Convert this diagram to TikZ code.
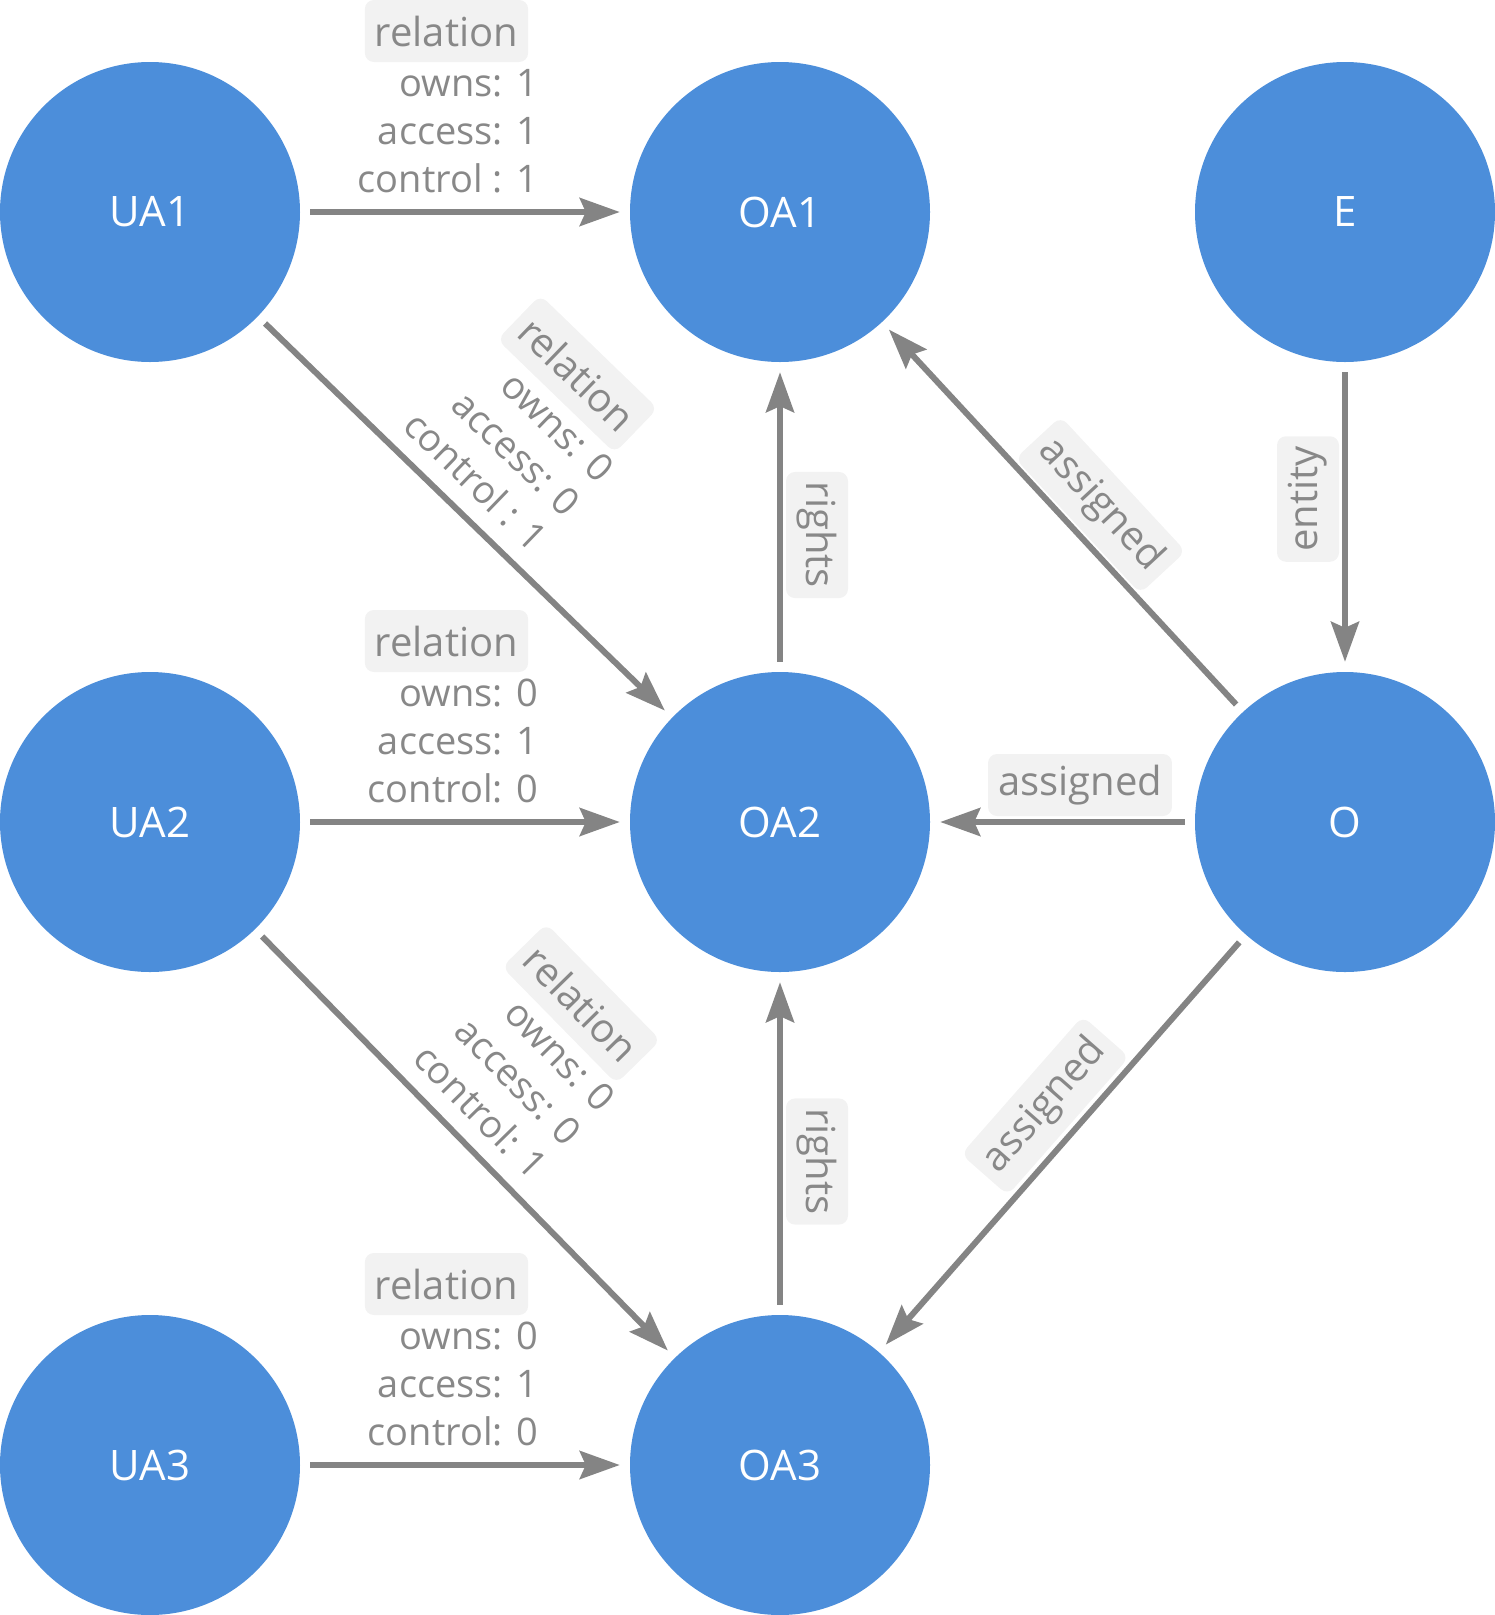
\documentclass[tikz,border=0pt]{standalone}
\usepackage{fontspec}
\setmainfont{Open Sans}
\usepackage{tikz}
\usetikzlibrary{calc}
\usetikzlibrary{arrows.meta}

\definecolor{nodeblue}{RGB}{76,142,218}
\definecolor{edgegray}{RGB}{132,132,132}
\definecolor{labelgray}{RGB}{136,136,136}
\definecolor{tagfill}{RGB}{242,242,242}

\begin{document}
\begin{tikzpicture}[x=1pt, y=1pt,
  vertex/.style={circle, fill=nodeblue, minimum size=300pt, inner sep=0pt,
    text=white, font=\fontsize{42}{50}\selectfont},
  link/.style={draw=edgegray, line width=6pt,
    -{Stealth[length=40pt, width=28pt, inset=6pt]},
    shorten <=10pt, shorten >=10pt},
  tag/.style={fill=tagfill, rounded corners=9pt, text=labelgray,
    minimum height=62pt, inner xsep=10pt, inner ysep=0pt,
    font=\fontsize{40}{48}\selectfont},
  vals/.style={text=labelgray, align=right, inner sep=0pt,
    font=\fontsize{38}{48}\selectfont}]

  \useasboundingbox (0,0) rectangle (1495,-1615);

  \node[vertex] (UA1) at (150,-212) {UA1};
  \node[vertex] (OA1) at (780,-212) {OA1};
  \node[vertex] (E) at (1345,-212) {E};
  \node[vertex] (UA2) at (150,-822) {UA2};
  \node[vertex] (OA2) at (780,-822) {OA2};
  \node[vertex] (O) at (1345,-822) {O};
  \node[vertex] (UA3) at (150,-1465) {UA3};
  \node[vertex] (OA3) at (780,-1465) {OA3};

  \draw[link] (UA1) -- (OA1);
  \draw[link] (UA1) -- (OA2);
  \draw[link] (UA2) -- (OA2);
  \draw[link] (UA2) -- (OA3);
  \draw[link] (UA3) -- (OA3);
  \draw[link] (OA2) -- (OA1);
  \draw[link] (OA3) -- (OA2);
  \draw[link] (E) -- (O);
  \draw[link] (O) -- (OA1);
  \draw[link] (O) -- (OA2);
  \draw[link] (O) -- (OA3);

  % relation labels
  \begin{scope}[shift={($(UA1)!.5!(OA1)$)}]
    \node[tag] (rel1) at (-18.5,181) {relation};
    \node[vals, anchor=base east] (val1) at (73,20) {owns: 1\\access: 1\\control : 1};
  \end{scope}
  \begin{scope}[shift={($(UA1)!.5!(OA2)$)}, rotate=-44.03, transform shape]
    \node[tag] (rel2) at (-18.5,181) {relation};
    \node[vals, anchor=base east] (val2) at (73,20) {owns: 0\\access: 0\\control : 1};
  \end{scope}
  \begin{scope}[shift={($(UA2)!.5!(OA2)$)}]
    \node[tag] (rel3) at (-18.5,181) {relation};
    \node[vals, anchor=base east] (val3) at (73,20) {owns: 0\\access: 1\\control: 0};
  \end{scope}
  \begin{scope}[shift={($(UA2)!.5!(OA3)$)}, rotate=-45.58, transform shape]
    \node[tag] (rel4) at (-18.5,181) {relation};
    \node[vals, anchor=base east] (val4) at (73,20) {owns: 0\\access: 0\\control: 1};
  \end{scope}
  \begin{scope}[shift={($(UA3)!.5!(OA3)$)}]
    \node[tag] (rel5) at (-18.5,181) {relation};
    \node[vals, anchor=base east] (val5) at (73,20) {owns: 0\\access: 1\\control: 0};
  \end{scope}

  % other labels
  \begin{scope}[shift={($(OA1)!.5!(OA2)$)}, rotate=-90, transform shape]
    \node[tag] (rights1) at (18,37) {rights};
  \end{scope}
  \begin{scope}[shift={($(OA2)!.5!(OA3)$)}, rotate=-90, transform shape]
    \node[tag] (rights2) at (18,37) {rights};
  \end{scope}
  \begin{scope}[shift={($(E)!.5!(O)$)}, rotate=90, transform shape]
    \node[tag] (ent) at (18,37) {entity};
  \end{scope}
  \begin{scope}[shift={($(O)!.5!(OA1)$)}, rotate=-47.19, transform shape]
    \node[tag] (asg1) at (17,36) {assigned};
  \end{scope}
  \begin{scope}[shift={($(O)!.5!(OA2)$)}]
    \node[tag] (asg2) at (17.5,37) {assigned};
  \end{scope}
  \begin{scope}[shift={($(O)!.5!(OA3)$)}, rotate=48.70, transform shape]
    \node[tag] (asg3) at (17,38) {assigned};
  \end{scope}
\end{tikzpicture}
\end{document}
